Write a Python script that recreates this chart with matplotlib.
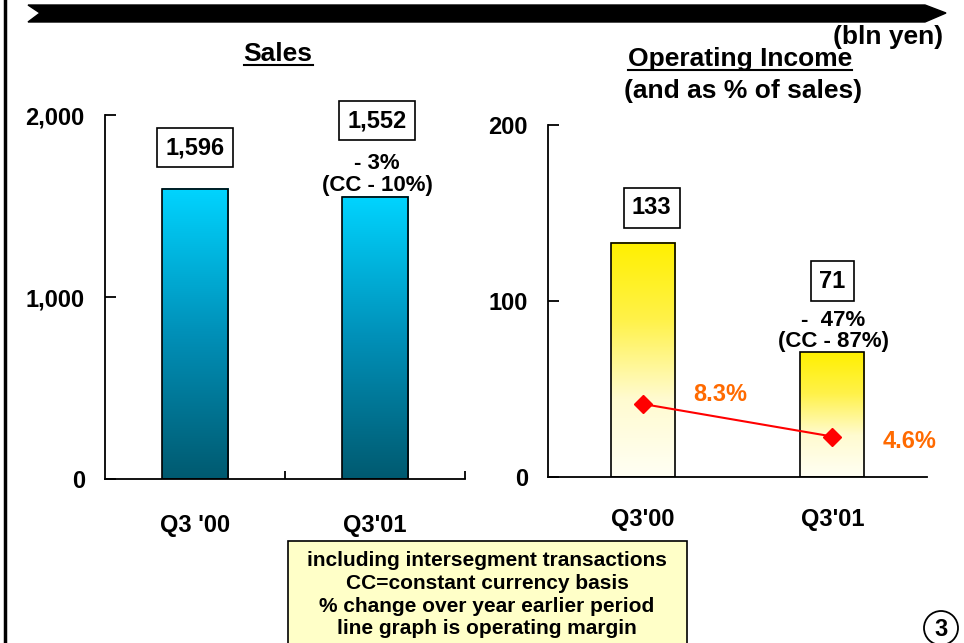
import numpy as np
import matplotlib.pyplot as plt
from matplotlib.patches import Rectangle, Polygon, Ellipse
from matplotlib.lines import Line2D
from matplotlib.colors import LinearSegmentedColormap

plt.rcParams['font.family'] = ['Liberation Sans', 'DejaVu Sans']
plt.rcParams['font.weight'] = 'bold'

# data
sales_cats = ["Q3 '00", "Q3'01"]
sales = [1596, 1552]
sales_labels = ["1,596", "1,552"]
sales_change = "- 3%\n(CC - 10%)"

oi_cats = ["Q3'00", "Q3'01"]
op_income = [133, 71]
oi_labels = ["133", "71"]
oi_change = "-  47%\n(CC - 87%)"

margin = [8.3, 4.6]
margin_labels = ["8.3%", "4.6%"]

notes = ["including intersegment transactions",
         "CC=constant currency basis",
         "% change over year earlier period",
         "line graph is operating margin"]

W, H = 964, 643
fig = plt.figure(figsize=(W / 100, H / 100), dpi=100)

def fx(px):
    return px / W

def fy(py):
    return 1 - py / H

blue_cmap = LinearSegmentedColormap.from_list('b', ['#005a70', '#0090b8', '#00d4ff'])
yel_cmap = LinearSegmentedColormap.from_list('y', ['#fffff4', '#fffbd0', '#fff24a', '#fff000'])


def gradient_bars(ax, vals, cmap, width):
    bars = ax.bar(range(len(vals)), vals, width=width, facecolor='none',
                  edgecolor='black', linewidth=1.2, zorder=3)
    grad = np.linspace(0, 1, 256).reshape(-1, 1)
    for b in bars:
        x0, w, h = b.get_x(), b.get_width(), b.get_height()
        ax.imshow(grad, cmap=cmap, origin='lower', aspect='auto',
                  extent=[x0, x0 + w, 0, h], zorder=2)
    return bars


def style_axis(ax, pad_y, pad_x):
    for s in ['top', 'right']:
        ax.spines[s].set_visible(False)
    for s in ['left', 'bottom']:
        ax.spines[s].set_linewidth(1.3)
    ax.tick_params(axis='y', direction='in', length=8, width=1.3,
                   labelsize=17, pad=pad_y)
    ax.tick_params(axis='x', which='major', length=0, labelsize=17, pad=pad_x)
    for lab in ax.get_xticklabels() + ax.get_yticklabels():
        lab.set_fontweight('bold')


def label(ax, text, xy, dx, dy, **kw):
    opts = dict(textcoords='offset pixels', ha='center', va='center',
                fontsize=17, fontweight='bold')
    opts.update(kw)
    ax.annotate(text, xy, xytext=(dx, dy), **opts)


box = dict(boxstyle='square,pad=0.35', facecolor='white', edgecolor='black', linewidth=1.2)

# --- Sales panel
ax1 = fig.add_axes([fx(105), fy(479), fx(360), 364 / H])
gradient_bars(ax1, sales, blue_cmap, 0.37)
ax1.set_xlim(-0.5, 1.5)
ax1.set_ylim(0, 2000)
ax1.set_yticks([0, 1000, 2000])
ax1.set_yticklabels(['0', '1,000', '2,000'])
ax1.set_xticks(range(len(sales_cats)))
ax1.set_xticklabels(sales_cats)
ax1.set_xticks([0.5, 1.5], minor=True)
ax1.tick_params(axis='x', which='minor', direction='in', length=6, width=1.3)
style_axis(ax1, 14.5, 25)

label(ax1, sales_labels[0], (0, sales[0]), 0, 41, bbox=box)
label(ax1, sales_labels[1], (1, sales[1]), 2, 76, bbox=box)
label(ax1, sales_change, (1, sales[1]), 2, 22, fontsize=16, linespacing=1.05, zorder=5)

# --- Operating income panel
ax2 = fig.add_axes([fx(548), fy(477), fx(379), 352 / H])
gradient_bars(ax2, op_income, yel_cmap, 0.34)
ax2.set_xlim(-0.5, 1.5)
ax2.set_ylim(0, 200)
ax2.set_yticks([0, 100, 200])
ax2.set_xticks(range(len(oi_cats)))
ax2.set_xticklabels(oi_cats)
style_axis(ax2, 14.5, 22.5)

label(ax2, oi_labels[0], (0, op_income[0]), 9, 35, bbox=box)
label(ax2, oi_labels[1], (1, op_income[1]), 0, 71, bbox=box)
label(ax2, oi_change, (1, op_income[1]), 1, 21, fontsize=16, linespacing=1.05, zorder=5)

# operating margin line on hidden twin scale
ax3 = ax2.twinx()
ax3.set_ylim(0, 40)
ax3.axis('off')
ax3.plot(range(len(margin)), margin, color='#ff0000', linewidth=1.5,
         marker='D', markersize=9, zorder=6)
label(ax3, margin_labels[0], (0, margin[0]), 77, 9, color='#ff6a00')
label(ax3, margin_labels[1], (1, margin[1]), 77, -5, color='#ff6a00')

# --- titles
t1 = fig.text(fx(278), fy(54), 'Sales', ha='center', va='center', fontsize=19, fontweight='bold')
t2 = fig.text(fx(740), fy(59), 'Operating Income', ha='center', va='center',
              fontsize=19, fontweight='bold')
fig.text(fx(743), fy(91), '(and as % of sales)', ha='center', va='center',
         fontsize=19, fontweight='bold')
fig.text(fx(888), fy(37), '(bln yen)', ha='center', va='center', fontsize=19, fontweight='bold')

fig.canvas.draw()
for t in (t1, t2):
    bb = t.get_window_extent()
    yy = (bb.y0 + 1) / H
    fig.add_artist(Line2D([bb.x0 / W, bb.x1 / W], [yy, yy], color='black', linewidth=1.5))

# --- top arrow banner
arrow = Polygon([(fx(28), fy(5)), (fx(925), fy(5)), (fx(946), fy(13)),
                 (fx(925), fy(22)), (fx(28), fy(22)), (fx(40), fy(13))],
                closed=True, facecolor='black', edgecolor='black', transform=fig.transFigure)
fig.add_artist(arrow)

# left border
fig.add_artist(Line2D([fx(5), fx(5)], [0, 1], color='black', linewidth=2.5))

# --- footnote box
fig.add_artist(Rectangle((fx(288), fy(660)), fx(399), (660 - 541) / H,
                         facecolor='#ffffc8', edgecolor='black', linewidth=1.2,
                         transform=fig.transFigure))
for i, line in enumerate(notes):
    fig.text(fx(487), fy(561 + i * 22.5), line, ha='center', va='center',
             fontsize=15, fontweight='bold')

# page number
fig.add_artist(Ellipse((fx(941), fy(628)), fx(34), 34 / H, facecolor='white',
                       edgecolor='black', linewidth=1.3, transform=fig.transFigure))
fig.text(fx(941), fy(629), '3', ha='center', va='center', fontsize=17, fontweight='bold')

fig.savefig('out.png', dpi=100)
